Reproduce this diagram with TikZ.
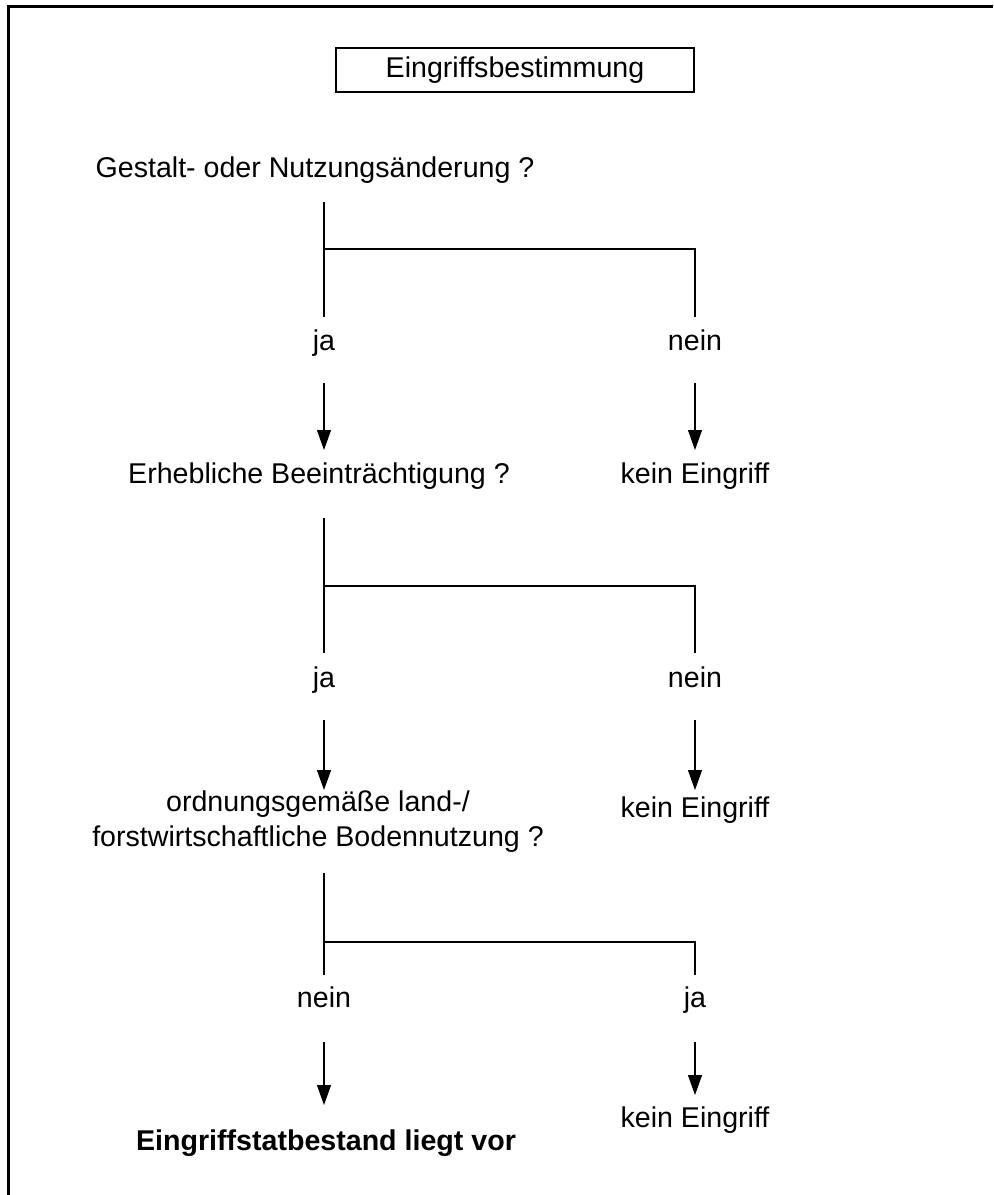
\documentclass[tikz,border=0pt]{standalone}
\usepackage{fontspec}
\setmainfont{Liberation Sans}
\usetikzlibrary{arrows.meta, calc}

\begin{document}
\begin{tikzpicture}[x=0.5pt, y=-0.5pt,
  txt/.style={font=\fontsize{14.3}{17.5}\selectfont, inner sep=0pt, align=center},
  answer/.style={txt, text height=10pt, text depth=3pt},
  titlebox/.style={txt, draw, line width=1.1pt, minimum width=179pt, minimum height=22pt},
  branch/.style={line width=0.9pt},
  down/.style={line width=0.6pt, -{Triangle[length=10pt, width=7pt]}},
  frame/.style={line width=1.6pt}]
\useasboundingbox (0,0) rectangle (993,1195);

% Frame (left and top only)
\draw[frame] (8.5,1195) -- (8.5,6.3) -- (993,6.3);

% Title
\node[titlebox] (title) at (515,70) {Eingriffsbestimmung};

% Questions and results
\node[txt] (q1) at (315,170) {Gestalt- oder Nutzungsänderung ?};
\node[txt] (q2) at (319,476) {Erhebliche Beeinträchtigung ?};
\node[txt] (q3) at (318,822) {ordnungsgemäße land-/\\forstwirtschaftliche Bodennutzung ?};
\node[txt] (k1) at (695,476) {kein Eingriff};
\node[txt] (k2) at (695,810) {kein Eingriff};
\node[txt] (k3) at (695,1120) {kein Eingriff};
\node[txt, font=\fontsize{14.3}{17.5}\selectfont\bfseries] (res) at (326,1143) {Eingriffstatbestand liegt vor};

% Answers
\node[answer] (ja1) at (324,343) {ja};
\node[answer] (nein1) at (695,343) {nein};
\node[answer] (ja2) at (324,680) {ja};
\node[answer] (nein2) at (695,680) {nein};
\node[answer] (nein3) at (324,1000) {nein};
\node[answer] (ja3) at (695,1000) {ja};

% Branch heights
\coordinate (h1) at (0,249);
\coordinate (h2) at (0,586);
\coordinate (h3) at (0,942);

% Draw branches
\draw[branch, shorten <=16pt, shorten >=13pt] (q1.center -| ja1.center) -- (ja1.center);
\draw[branch, shorten >=13pt] (ja1.center |- h1) -| (nein1.center);
\draw[branch, shorten <=21pt, shorten >=13.5pt] (q2.center -| ja2.center) -- (ja2.center);
\draw[branch, shorten >=13.5pt] (ja2.center |- h2) -| (nein2.center);
\draw[branch, shorten <=25.5pt, shorten >=12.5pt] (q3.center -| nein3.center) -- (nein3.center);
\draw[branch, shorten >=12.5pt] (nein3.center |- h3) -| (ja3.center);

% Draw arrows
\draw[down, shorten <=20pt, shorten >=13pt] (ja1.center) -- (q2.center -| ja1.center);
\draw[down, shorten <=20pt, shorten >=13pt] (nein1.center) -- (k1.center);
\draw[down, shorten <=20pt, shorten >=16pt] (ja2.center) -- (q3.center -| ja2.center);
\draw[down, shorten <=20pt, shorten >=10pt] (nein2.center) -- (k2.center);
\draw[down, shorten <=21pt, shorten >=19pt] (nein3.center) -- (res.center -| nein3.center);
\draw[down, shorten <=21pt, shorten >=12.5pt] (ja3.center) -- (k3.center);

\end{tikzpicture}
\end{document}
